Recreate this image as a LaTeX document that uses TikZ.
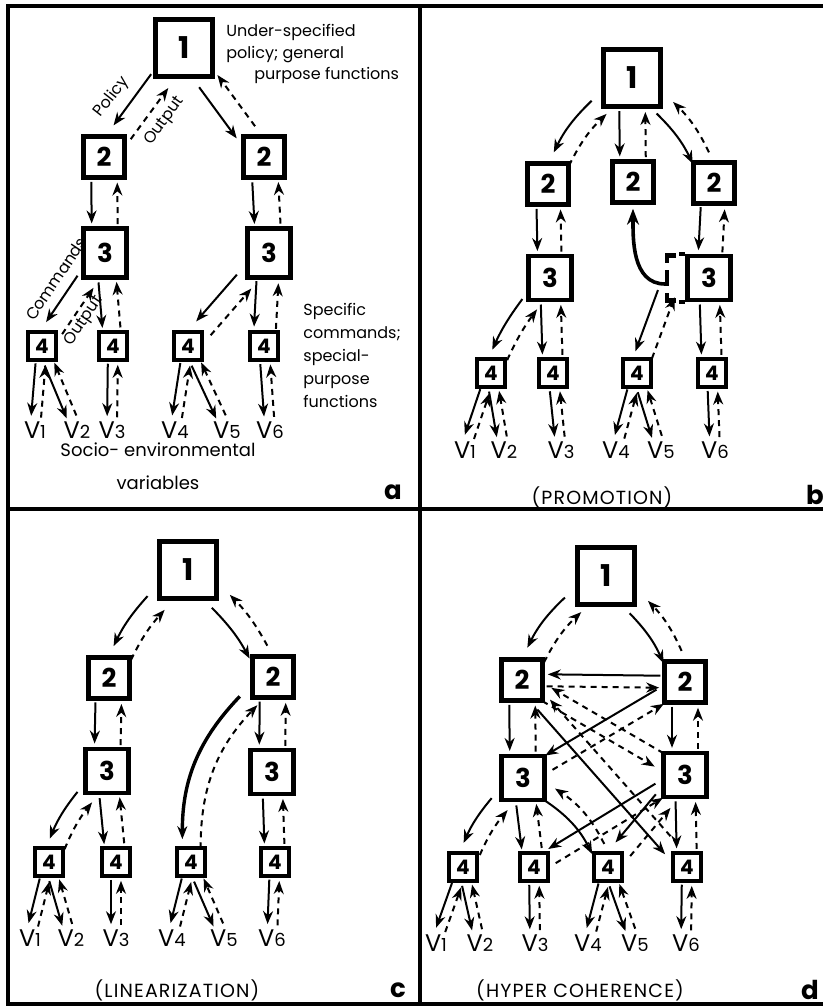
\documentclass[tikz,border=0pt]{standalone}
\usepackage{fontspec}
\setmainfont{Poppins}
\usetikzlibrary{arrows.meta,calc,backgrounds}

\tikzset{
  box/.style={draw,fill=white,inner sep=0pt,line width=2.2pt},
  boxone/.style={box,minimum size=28.5pt,line width=2.6pt,font=\bfseries\fontsize{15}{15}\selectfont},
  boxtwo/.style={box,minimum size=20.5pt,font=\bfseries\fontsize{13}{13}\selectfont},
  boxthree/.style={box,minimum width=21.5pt,minimum height=22pt,font=\bfseries\fontsize{13}{13}\selectfont},
  boxfour/.style={box,minimum size=14pt,line width=1.8pt,font=\bfseries\fontsize{10}{10}\selectfont},
  ghost/.style={inner sep=0pt,minimum width=4.5pt,minimum height=22pt},
  varlab/.style={inner sep=1pt,font=\fontsize{12}{12}\selectfont},
  note/.style={inner sep=0pt,font=\fontsize{8}{10.75}\selectfont},
  capt/.style={inner sep=0pt,font=\fontsize{9.5}{9.5}\selectfont\addfontfeature{LetterSpace=6}},
  panelmark/.style={inner sep=0pt,font=\bfseries\fontsize{13}{13}\selectfont},
  link/.style={line width=1pt,-{Stealth[length=6.5pt,width=5pt]},shorten >=1.5pt,shorten <=1pt},
  cmd/.style={link},
  feedback/.style={link,dash pattern=on 3pt off 2.5pt},
  frame/.style={line width=1.6pt},
  edge/.style={line width=2.2pt},
}

\newcommand{\vname}[1]{V{\fontsize{9}{9}\selectfont #1}}
% solid down to the child, dashed back up, side by side
\newcommand{\duo}[4][0]{%
  \pgfmathanglebetweenpoints{\pgfpointanchor{#3}{center}}{\pgfpointanchor{#4}{center}}%
  \let\duoang\pgfmathresult
  \draw[cmd,transform canvas={shift={(\duoang-90:#2pt)}}] (#3) to[bend left=#1] (#4);
  \draw[feedback,transform canvas={shift={(\duoang+90:#2pt)}}] (#4) to[bend right=#1] (#3);
}

\begin{document}
\begin{tikzpicture}[x=0.5pt,y=-0.5pt]
\useasboundingbox (0,0) rectangle (823,1007);
\draw[frame] (823,6) -- (8,6) -- (8,1004) -- (823,1004);
\draw[frame] (8,509) -- (823,509);
\draw[frame] (420,6) -- (420,1004);

% a
\node[boxone] (a1) at (184,48) {1};
\node[boxtwo] (a2l) at (104,157) {2};
\node[boxtwo] (a2r) at (264,157) {2};
\node[boxthree,minimum height=24.5pt] (a3l) at (105,253) {3};
\node[boxthree,minimum height=24.5pt] (a3r) at (269,253) {3};
\foreach \n/\x in {a/42,b/113,c/188,d/264}
  \node[boxfour] (a4\n) at (\x,346) {4};
\foreach \i/\x in {1/35,2/77,3/112,4/175,5/227,6/270}
  \node[varlab] (av\i) at (\x,430) {\vname{\i}};
\node[note,anchor=north west,align=left] (aspec) at (226,24)
  {Under-specified\\policy; general\\\hspace*{14pt}purpose functions};
\node[note,anchor=north west,align=left,font=\fontsize{8}{11.5}\selectfont] (aspec2) at (303,303)
  {Specific\\commands;\\special-\\purpose\\functions};
\node[note,align=center,font=\fontsize{9}{16.5}\selectfont] (asocio) at (158,466)
  {Socio- environmental\\variables};
\node[note,rotate=52] (apol) at (112,97) {Policy};
\node[note,rotate=54] (aout) at (165,121) {Output};
\node[note,rotate=56] (acom) at (56,279) {Commands};
\node[note,rotate=56] (aout2) at (84,321) {Output};
\node[panelmark] (ma) at (393,492) {a};

% b
\node[boxone] (b1) at (632,78) {1};
\node[boxtwo] (b2l) at (548,184) {2};
\node[boxtwo] (b2m) at (633,182) {2};
\node[boxtwo] (b2r) at (714,183) {2};
\node[boxthree] (b3l) at (550,278) {3};
\node[boxthree] (b3r) at (709,278) {3};
\node[ghost] (b3g) at (672,278) {};
\foreach \n/\x in {a/491,b/553,c/637,d/712}
  \node[boxfour] (b4\n) at (\x,373) {4};
\foreach \i/\x in {1/465,2/504,3/561,4/616,5/661,6/715}
  \node[varlab] (bv\i) at (\x,450) {\vname{\i}};
\draw[edge] ($(b3g.north west)+(9,0)$) -- (b3g.north west) -- ++(0,7);
\draw[edge] ($(b3g.west)+(0,-8)$) -- ++(0,16);
\draw[edge] ($(b3g.south west)+(9,0)$) -- (b3g.south west) -- ++(0,-7);
\draw[edge] ($(b3r.north west)+(-6,0)$) -- (b3r.north west);
\draw[edge] ($(b3r.south west)+(-6,0)$) -- (b3r.south west);
\draw[line width=1.8pt,-{Stealth[length=8pt,width=6pt]},shorten >=2pt]
  ($(b3g.west)+(-2,6)$) to[out=180,in=-90] (b2m.south);
\node[capt] (bcap) at (602,497) {(PROMOTION)};
\node[panelmark] (mb) at (815,495) {b};

% c
\node[boxone] (c1) at (188,570) {1};
\node[boxtwo] (c2l) at (109,678) {2};
\node[boxtwo] (c2r) at (273,677) {2};
\node[boxthree] (c3l) at (107,771) {3};
\node[boxthree] (c3r) at (272,772) {3};
\foreach \n/\x in {a/49,b/116,c/191,d/275}
  \node[boxfour] (c4\n) at (\x,862) {4};
\foreach \i/\x in {1/30,2/71,3/116,4/172,5/224,6/272}
  \node[varlab] (cv\i) at (\x,938) {\vname{\i}};
\node[capt] (ccap) at (177,990) {(LINEARIZATION)};
\node[panelmark] (mc) at (398,990) {c};

% d
\node[boxone] (d1) at (606,576) {1};
\node[boxtwo] (d2l) at (522,680) {2};
\node[boxtwo] (d2r) at (685,682) {2};
\node[boxthree] (d3l) at (523,778) {3};
\node[boxthree] (d3r) at (685,775) {3};
\foreach \n/\x in {a/463,b/534,c/608,d/687}
  \node[boxfour] (d4\n) at (\x,867) {4};
\foreach \i/\x in {1/436,2/480,3/535,4/588,5/635,6/686}
  \node[varlab] (dv\i) at (\x,943) {\vname{\i}};
\node[capt] (dcap) at (580,990) {(HYPER COHERENCE)};
\node[panelmark] (md) at (810,990) {d};

\begin{scope}[on background layer]
\foreach \p/\c/\s in {a1/a2l/5.5,a1/a2r/5.5,a2l/a3l/6.5,a2r/a3r/6.5,
    a3l/a4a/5,a3l/a4b/4.5,a3r/a4c/5,a3r/a4d/5.5,
    a4a/av1/2.5,a4a/av2/2.5,a4b/av3/2.5,a4c/av4/2.5,a4c/av5/2.5,a4d/av6/2.5}
  \duo{\s}{\p}{\c};

\duo[-10]{5}{b1}{b2l}
\duo{6.5}{b1}{b2m}
\duo[10]{5}{b1}{b2r}
\foreach \p/\c/\s in {b2l/b3l/6,b2r/b3r/6,b3l/b4b/5,b3g/b4c/4.5,b3r/b4d/5,
    b4a/bv1/2.5,b4a/bv2/2.5,b4b/bv3/2.5,b4c/bv4/2.5,b4c/bv5/2.5,b4d/bv6/2.5}
  \duo{\s}{\p}{\c};
\duo[-6]{4.5}{b3l}{b4a}

\duo[-8]{5.5}{c1}{c2l}
\duo[8]{5.5}{c1}{c2r}
\foreach \p/\c/\s in {c2l/c3l/6.5,c2r/c3r/6.5,c3l/c4b/5,c3r/c4d/5,
    c4a/cv1/2.5,c4a/cv2/2.5,c4b/cv3/2.5,c4c/cv4/2.5,c4c/cv5/2.5,c4d/cv6/2.5}
  \duo{\s}{\p}{\c};
\duo[-8]{4.5}{c3l}{c4a}
\begin{scope}[cmd/.append style={line width=1.7pt}]
\duo[-22]{5}{c2r}{c4c}
\end{scope}

\duo[-10]{5.5}{d1}{d2l}
\duo[10]{5.5}{d1}{d2r}
\foreach \p/\c/\s in {d2l/d3l/6.5,d2r/d3r/6.5,d3l/d4b/5,d3r/d4c/5,d3r/d4d/5,
    d2r/d2l/3,d2r/d3l/4,d2l/d4d/4,d3r/d4b/4,
    d4a/dv1/2.5,d4a/dv2/2.5,d4b/dv3/2.5,d4c/dv4/2.5,d4c/dv5/2.5,d4d/dv6/2.5}
  \duo{\s}{\p}{\c};
\duo[-8]{5}{d3l}{d4a}
\duo[15]{4}{d3l}{d4c}
\begin{scope}[cmd/.append style={dash pattern=on 3pt off 2.5pt}]
\duo{4}{d2l}{d3r}
\end{scope}
\end{scope}
\end{tikzpicture}
\end{document}
